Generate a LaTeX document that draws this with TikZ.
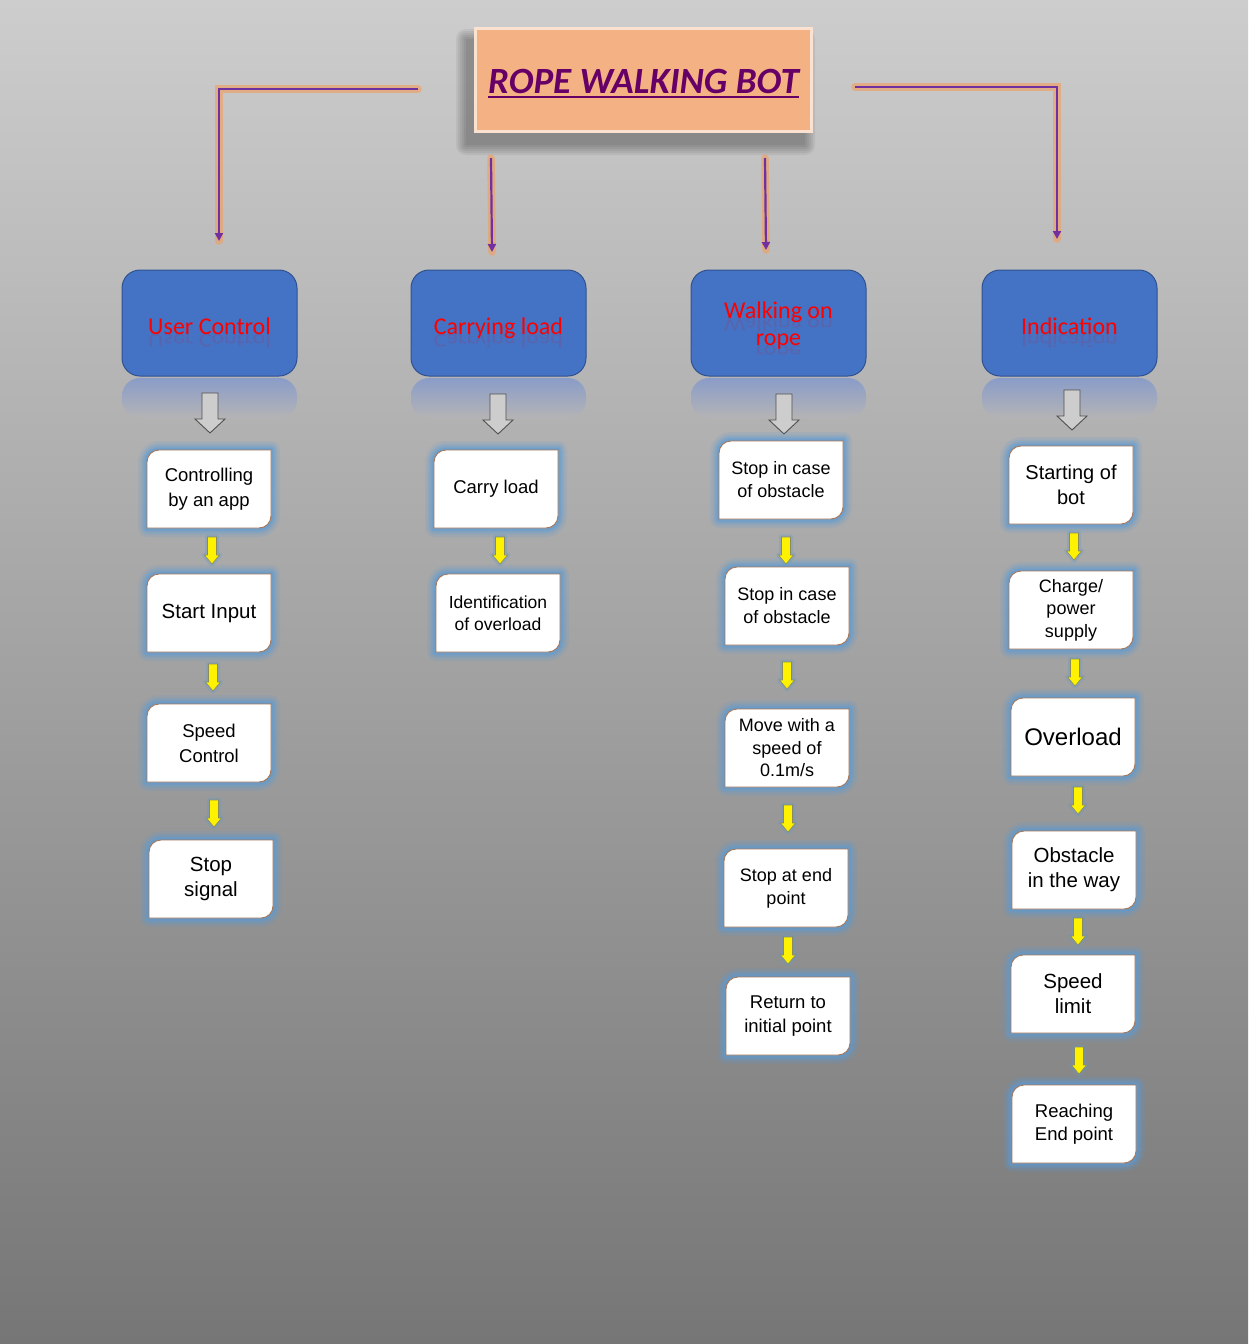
\documentclass[tikz,border=0pt]{standalone}
\usepackage{fontspec}
\setmainfont{Liberation Sans}
\newfontfamily\calibri{Carlito}
\usetikzlibrary{arrows.meta}
\definecolor{bgtop}{RGB}{205,205,205}
\definecolor{bgbot}{RGB}{118,118,118}
\definecolor{bgmid}{RGB}{180,180,181}
\definecolor{peach}{RGB}{244,177,131}
\definecolor{peachedge}{RGB}{251,226,208}
\definecolor{titlecol}{RGB}{102,0,102}
\definecolor{purp}{RGB}{112,48,160}
\definecolor{connglow}{RGB}{240,160,100}
\definecolor{bluebox}{RGB}{68,114,196}
\definecolor{blueedge}{RGB}{47,82,143}
\definecolor{reflcol}{RGB}{138,156,200}
\definecolor{glowblue}{RGB}{91,155,213}
\definecolor{boxedge}{RGB}{165,118,88}
\definecolor{yedge}{RGB}{140,140,90}
\definecolor{garrow}{RGB}{205,205,205}
\definecolor{garrowedge}{RGB}{80,80,80}

\newcommand\wbox[6]{%
  \begin{scope}[shift={(#2,-#3)}]
    \foreach \lw/\op in {18/0.14,13/0.2,9/0.3,5/0.45}{%
      \draw[glowblue, line width=\lw pt, opacity=\op, line join=round]
        (-62,27) arc[start angle=180,end angle=90,radius=12pt] -- (62,39) -- (62,-27)
        arc[start angle=0,end angle=-90,radius=12pt] -- (-62,-39) -- cycle;}
    \filldraw[fill=white, draw=boxedge, line width=0.9pt]
        (-62,27) arc[start angle=180,end angle=90,radius=12pt] -- (62,39) -- (62,-27)
        arc[start angle=0,end angle=-90,radius=12pt] -- (-62,-39) -- cycle;
  \end{scope}
  \node[wtext, font=\fontsize{#4}{#5}\selectfont] (#1) at (#2,-#3) {#6};
}
\newcommand\yarr[3]{%
  \begin{scope}[shift={(#2,-#3)}]
    \draw[glowblue, line width=5pt, opacity=0.3, line join=round]
      (-4.5,0) -- (4.5,0) -- (4.5,-18) -- (7.5,-18) -- (0,-27) -- (-7.5,-18) -- (-4.5,-18) -- cycle;
    \filldraw[fill=yellow, draw=yedge, line width=0.6pt]
      (-4.5,0) -- (4.5,0) -- (4.5,-18) -- (7.5,-18) -- (0,-27) -- (-7.5,-18) -- (-4.5,-18) -- cycle;
    \coordinate (#1) at (0,-13.5);
  \end{scope}
}
\newcommand\garr[3]{%
  \begin{scope}[shift={(#2,-#3)}]
    \filldraw[fill=garrow, draw=garrowedge, line width=0.9pt]
      (-8,0) -- (8,0) -- (8,-26) -- (15,-26) -- (0,-40) -- (-15,-26) -- (-8,-26) -- cycle;
    \coordinate (#1) at (0,-20);
  \end{scope}
}

\begin{document}
\begin{tikzpicture}[x=1pt,y=1pt,
  wtext/.style={align=center, inner sep=0pt, text=black},
  blueboxstyle/.style={rectangle, rounded corners=18pt, minimum width=175pt, minimum height=106pt,
     fill=bluebox, draw=blueedge, line width=1pt, inner sep=0pt},
  bluetext/.style={font=\calibri\fontsize{24}{26}\selectfont, text=red, inner sep=0pt, anchor=base},
  bluerefl/.style={bluetext, yscale=-0.8, opacity=0.12},
  conn/.style={draw=purp, line width=2.2pt, -{Triangle[width=8pt,length=8pt]},
     preaction={draw=connglow, line width=7.5pt, opacity=0.65, -, line cap=round}}
]
\useasboundingbox (0,0) rectangle (1248,-1344);
\shade[top color=bgtop, bottom color=bgbot] (0,0) rectangle (1248,-1344);

% title shadow
\foreach \e in {0,2,4,6,8,10}{
  \fill[black, opacity=0.055, rounded corners=\e pt] (466-\e,-39+\e) rectangle (805+\e,-145-\e);}
\node[rectangle, fill=peach, draw=peachedge, line width=2.5pt, minimum width=336pt,
      minimum height=103pt, inner sep=0pt] (title) at (643.5,-80) {};
\node[font=\calibri\bfseries\itshape\fontsize{37}{40}\selectfont, text=titlecol, inner sep=0pt,
      anchor=base] (tt) at (643.5,-93) {ROPE WALKING BOT};
\draw[titlecol, line width=2pt] ([yshift=-4pt]tt.base west) -- ([yshift=-4pt]tt.base east);

% connectors
\coordinate (c1s) at (418,-89);  \coordinate (c1e) at (219,-241);
\coordinate (c2s) at (491,-158); \coordinate (c2e) at (492,-252);
\coordinate (c3s) at (765,-158); \coordinate (c3e) at (766,-250);
\coordinate (c4s) at (855,-87);  \coordinate (c4e) at (1057,-239);
\draw[conn] (c1s) -| (c1e);
\draw[conn] (c2s) -- (c2e);
\draw[conn] (c3s) -- (c3e);
\draw[conn] (c4s) -| (c4e);

% reflections of blue boxes
\foreach \x in {122,411,691,982}{
  \shade[top color=reflcol, bottom color=bgmid, rounded corners=18pt] (\x,-378) rectangle (\x+175,-418);}

% blue boxes
\node[blueboxstyle] (b1) at (209.5,-323) {};
\node[blueboxstyle] (b2) at (498.5,-323) {};
\node[blueboxstyle] (b3) at (778.5,-323) {};
\node[blueboxstyle] (b4) at (1069.5,-323) {};

\node[bluetext] (l1) at (209.5,-334) {User Control};
\node[bluerefl] at (209.5,-334) {User Control};
\node[bluetext] (l2) at (498.5,-334) {Carrying load};
\node[bluerefl] at (498.5,-334) {Carrying load};
\node[bluetext] (l3a) at (778.5,-318) {Walking on};
\node[bluerefl] at (778.5,-318) {Walking on};
\node[bluetext] (l3b) at (778.5,-345) {rope};
\node[bluerefl] at (778.5,-345) {rope};
\node[bluetext] (l4) at (1069.5,-334) {Indication};
\node[bluerefl] at (1069.5,-334) {Indication};

% gray hollow arrows
\garr{g1}{210}{393}
\garr{g2}{498}{394}
\garr{g3}{784}{394}
\garr{g4}{1072}{390}

% column 1
\wbox{a1}{209}{489}{18.5}{25}{Controlling\\by an app}
\wbox{a2}{209}{613}{20.5}{24}{Start Input}
\wbox{a3}{209}{743}{18.5}{25}{Speed\\Control}
\wbox{a4}{211}{879}{20.5}{25}{Stop\\signal}
% column 2
\wbox{d1}{496}{489}{18.5}{23}{Carry load}
\wbox{d2}{498}{613}{17.5}{22}{Identification\\of overload}
% column 3
\wbox{e1}{781}{480}{18}{23}{Stop in case\\of obstacle}
\wbox{e2}{787}{606}{18}{23}{Stop in case\\of obstacle}
\wbox{e3}{787}{748}{18}{22.5}{Move with a\\speed of\\0.1m/s}
\wbox{e4}{786}{888}{18}{23}{Stop at end\\point}
\wbox{e5}{788}{1016}{18.5}{23.5}{Return to\\initial point}
% column 4
\wbox{f1}{1071}{485}{20}{25}{Starting of\\bot}
\wbox{f2}{1071}{610}{18}{22.5}{Charge/\\power\\supply}
\wbox{f3}{1073}{737}{24}{26}{Overload}
\wbox{f4}{1074}{870}{20.5}{25}{Obstacle\\in the way}
\wbox{f5}{1073}{994}{20.5}{25}{Speed\\limit}
\wbox{f6}{1074}{1124}{18.5}{23}{Reaching\\End point}

% yellow arrows
\yarr{ya1}{212}{537}
\yarr{ya2}{213}{664}
\yarr{ya3}{214}{800}
\yarr{yd1}{500}{537}
\yarr{ye1}{786}{537}
\yarr{ye2}{787}{662}
\yarr{ye3}{788}{805}
\yarr{ye4}{788}{937}
\yarr{yf1}{1074}{533}
\yarr{yf2}{1075}{659}
\yarr{yf3}{1078}{787}
\yarr{yf4}{1078}{918}
\yarr{yf5}{1079}{1047}
\end{tikzpicture}
\end{document}
